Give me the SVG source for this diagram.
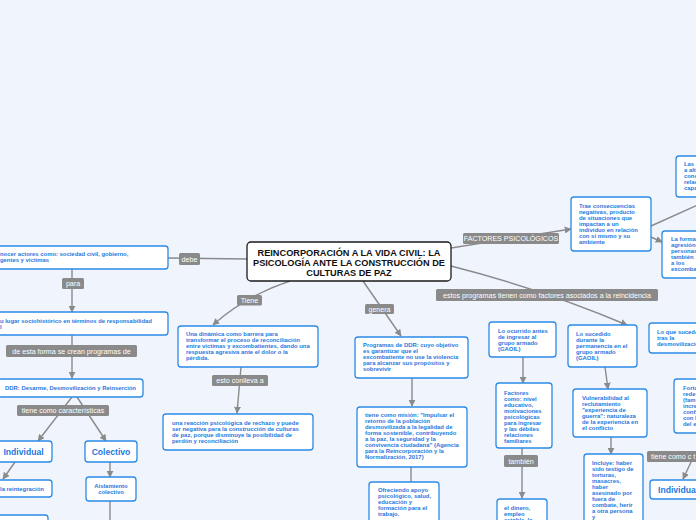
<svg xmlns="http://www.w3.org/2000/svg" width="696" height="520" viewBox="0 0 696 520">
<defs>
<marker id="ah" viewBox="0 0 10 10" refX="9" refY="5" markerWidth="7" markerHeight="7" markerUnits="userSpaceOnUse" orient="auto">
<path d="M0,0 L10,5 L0,10 z" fill="#8a8a8a"/>
</marker>
<style>
.bg{fill:#f0f4fd}
.n{fill:#ffffff;stroke:#2b8ae6;stroke-width:1.3}
.c{fill:#ffffff;stroke:#1a1a1a;stroke-width:1.3}
.t{font-family:"Liberation Sans",Arial,sans-serif;font-weight:bold;font-size:5.9px;fill:#1e78e0}
.tb{font-family:"Liberation Sans",Arial,sans-serif;font-weight:bold;font-size:8.6px;fill:#1e78e0;text-anchor:middle}
.ct{font-family:"Liberation Sans",Arial,sans-serif;font-weight:bold;font-size:9.2px;fill:#111111;text-anchor:middle}
.l{fill:none;stroke:#8a8a8a;stroke-width:1.4}
.la{fill:none;stroke:#8a8a8a;stroke-width:1.4;marker-end:url(#ah)}
.lb{fill:#8a8a8a}
.lt{font-family:"Liberation Sans",Arial,sans-serif;font-size:7.1px;fill:#ffffff;text-anchor:middle}
</style>
</defs>
<rect class="bg" x="0" y="0" width="696" height="520"/>

<g id="connectors">
<line class="l" x1="247" y1="259" x2="168" y2="258"/>
<line class="la" x1="72" y1="269" x2="72" y2="312"/>
<line class="la" x1="72" y1="335" x2="72" y2="378"/>
<line class="la" x1="72" y1="397" x2="38" y2="441"/>
<line class="la" x1="77" y1="397" x2="106" y2="441"/>
<line class="la" x1="15" y1="462" x2="3" y2="479"/>
<line class="la" x1="110" y1="462" x2="110" y2="477"/>
<line class="l" x1="110" y1="501" x2="110" y2="520"/>
<path class="la" d="M290,281 Q245,296 213,325"/>
<line class="la" x1="241" y1="367" x2="237" y2="413"/>
<line class="la" x1="363" y1="281" x2="401" y2="336"/>
<line class="la" x1="412" y1="378" x2="412" y2="406"/>
<line class="l" x1="411" y1="467" x2="411" y2="482"/>
<line class="la" x1="451" y1="248" x2="571" y2="229"/>
<line class="l" x1="651" y1="226" x2="700" y2="204"/>
<line class="la" x1="651" y1="237" x2="662" y2="242"/>
<path class="la" d="M451,266 Q545,290 627,325"/>
<line class="la" x1="523" y1="357" x2="523" y2="383"/>
<line class="la" x1="522" y1="448" x2="522" y2="498"/>
<line class="la" x1="605" y1="367" x2="608" y2="389"/>
<line class="la" x1="611" y1="437" x2="611" y2="454"/>
<line class="la" x1="693" y1="458" x2="683" y2="479"/>
</g>

<g id="labels">
<rect class="lb" x="179" y="253" width="21" height="12" rx="1.5"/><text class="lt" x="189.5" y="261.5">debe</text>
<rect class="lb" x="62" y="278" width="22" height="11" rx="1.5"/><text class="lt" x="73" y="286">para</text>
<rect class="lb" x="6" y="345" width="131" height="12" rx="1.5"/><text class="lt" x="71.5" y="353.5">de esta forma se crean programas de</text>
<rect class="lb" x="17" y="405" width="92" height="11" rx="1.5"/><text class="lt" x="63" y="413">tiene como características</text>
<rect class="lb" x="237" y="295" width="25" height="10.5" rx="1.5"/><text class="lt" x="249.5" y="302.5">Tiene</text>
<rect class="lb" x="212" y="375" width="56" height="11" rx="1.5"/><text class="lt" x="240" y="383">esto conlleva a</text>
<rect class="lb" x="365" y="304" width="29" height="10" rx="1.5"/><text class="lt" x="379.5" y="311.5">genera</text>
<rect class="lb" x="463" y="233" width="96" height="11" rx="1.5"/><text class="lt" x="511" y="241">FACTORES PSICOLÓGICOS</text>
<rect class="lb" x="436" y="289" width="222" height="12" rx="1.5"/><text class="lt" x="547" y="297.5">estos programas tienen como factores asociados a la reincidencia</text>
<rect class="lb" x="504" y="455" width="34" height="12" rx="1.5"/><text class="lt" x="521" y="463.5">también</text>
<rect class="lb" x="647" y="451" width="55" height="11" rx="1.5"/><text class="lt" x="651" y="459" style="text-anchor:start">tiene como c  t</text>
</g>

<g id="central">
<rect class="c" x="247" y="242" width="204" height="39" rx="4"/>
<text class="ct" x="349" y="256">REINCORPORACIÓN A LA VIDA CIVIL: LA</text>
<text class="ct" x="349" y="266">PSICOLOGÍA ANTE LA CONSTRUCCIÓN DE</text>
<text class="ct" x="349" y="276">CULTURAS DE PAZ</text>
</g>

<g id="n-reconocer">
<rect class="n" x="-6" y="246" width="174" height="23" rx="3"/>
<text class="t" x="0" y="256">nocer actores como: sociedad civil, gobierno,</text>
<text class="t" x="0" y="262">gentes y víctimas</text>
</g>

<g id="n-lugar">
<rect class="n" x="-6" y="312" width="174" height="23" rx="3"/>
<text class="t" x="0" y="323">u lugar sociohistórico en términos de responsabilidad</text>
<text class="t" x="0" y="329">l</text>
</g>

<g id="n-ddr">
<rect class="n" x="-2" y="379" width="145" height="18" rx="3"/>
<text class="t" x="70.5" y="390" style="text-anchor:middle">DDR: Desarme, Desmovilización y Reinserción</text>
</g>

<g id="n-individual">
<rect class="n" x="-5" y="441" width="57" height="21" rx="3"/>
<text class="tb" x="23.5" y="454.5">Individual</text>
</g>

<g id="n-colectivo">
<rect class="n" x="85" y="441" width="52" height="21" rx="3"/>
<text class="tb" x="111" y="454.5">Colectivo</text>
</g>

<g id="n-reintegracion">
<rect class="n" x="-6" y="480" width="58" height="17" rx="3"/>
<text class="t" x="0" y="491">la reintegración</text>
</g>

<g id="n-bottomleft">
<rect class="n" x="-6" y="515" width="54" height="12" rx="3"/>
</g>

<g id="n-aislamiento">
<rect class="n" x="86" y="477" width="50" height="24" rx="3"/>
<text class="t" x="111" y="487.5" style="text-anchor:middle">Aislamiento</text>
<text class="t" x="111" y="493.5" style="text-anchor:middle">colectivo</text>
</g>

<g id="n-dinamica">
<rect class="n" x="178" y="326" width="140" height="41" rx="3"/>
<text class="t" x="186" y="336">Una dinámica como barrera para</text>
<text class="t" x="186" y="342">transformar el proceso de reconciliación</text>
<text class="t" x="186" y="348">entre víctimas y excombatientes, dando una</text>
<text class="t" x="186" y="354">respuesta agresiva ante el dolor o la</text>
<text class="t" x="186" y="360">pérdida.</text>
</g>

<g id="n-reaccion">
<rect class="n" x="163" y="414" width="150" height="36" rx="3"/>
<text class="t" x="172" y="425">una reacción psicológica de rechazo y puede</text>
<text class="t" x="172" y="431">ser negativa para la construcción de culturas</text>
<text class="t" x="172" y="437">de paz, porque disminuye la posibilidad de</text>
<text class="t" x="172" y="443">perdón y reconciliación</text>
</g>

<g id="n-programas">
<rect class="n" x="355" y="337" width="113" height="41" rx="3"/>
<text class="t" x="363" y="347">Programas de DDR: cuyo objetivo</text>
<text class="t" x="363" y="353">es garantizar que el</text>
<text class="t" x="363" y="359">excombatiente no use la violencia</text>
<text class="t" x="363" y="365">para alcanzar sus propósitos y</text>
<text class="t" x="363" y="371">sobrevivir</text>
</g>

<g id="n-mision">
<rect class="n" x="357" y="407" width="110" height="60" rx="3"/>
<text class="t" x="365" y="417">tiene como misión: "Impulsar el</text>
<text class="t" x="365" y="423">retorno de la población</text>
<text class="t" x="365" y="429">desmovilizada a la legalidad de</text>
<text class="t" x="365" y="435">forma sostenible, contribuyendo</text>
<text class="t" x="365" y="441">a la paz, la seguridad y la</text>
<text class="t" x="365" y="447">convivencia ciudadana" (Agencia</text>
<text class="t" x="365" y="453">para la Reincorporación y la</text>
<text class="t" x="365" y="459">Normalización, 2017)</text>
</g>

<g id="n-ofreciendo">
<rect class="n" x="369" y="482" width="70" height="45" rx="3"/>
<text class="t" x="378" y="492">Ofreciendo apoyo</text>
<text class="t" x="378" y="498">psicológico, salud,</text>
<text class="t" x="378" y="504">educación y</text>
<text class="t" x="378" y="510">formación para el</text>
<text class="t" x="378" y="516">trabajo.</text>
</g>

<g id="n-trae">
<rect class="n" x="571" y="197" width="80" height="54" rx="3"/>
<text class="t" x="579" y="208">Trae consecuencias</text>
<text class="t" x="579" y="214">negativas, producto</text>
<text class="t" x="579" y="220">de situaciones que</text>
<text class="t" x="579" y="226">impactan a un</text>
<text class="t" x="579" y="232">individuo en relación</text>
<text class="t" x="579" y="238">con sí mismo y su</text>
<text class="t" x="579" y="244">ambiente</text>
</g>

<g id="n-las">
<rect class="n" x="676" y="156" width="40" height="41" rx="3"/>
<text class="t" x="684" y="166">Las c</text>
<text class="t" x="684" y="172">a alt</text>
<text class="t" x="684" y="178">conc</text>
<text class="t" x="684" y="184">relac</text>
<text class="t" x="684" y="190">capa</text>
</g>

<g id="n-laforma">
<rect class="n" x="662" y="231" width="50" height="47" rx="3"/>
<text class="t" x="671" y="241">La forma</text>
<text class="t" x="671" y="247">agresión</text>
<text class="t" x="671" y="253">personas</text>
<text class="t" x="671" y="259">también</text>
<text class="t" x="671" y="265">a los</text>
<text class="t" x="671" y="271">excombat</text>
</g>

<g id="n-ocurrido">
<rect class="n" x="489" y="322" width="67" height="35" rx="3"/>
<text class="t" x="498" y="333">Lo ocurrido antes</text>
<text class="t" x="498" y="339">de ingresar al</text>
<text class="t" x="498" y="345">grupo armado</text>
<text class="t" x="498" y="351">(GAOIL)</text>
</g>

<g id="n-factores">
<rect class="n" x="496" y="383" width="56" height="65" rx="3"/>
<text class="t" x="504" y="395">Factores</text>
<text class="t" x="504" y="401">como: nivel</text>
<text class="t" x="504" y="407">educativo,</text>
<text class="t" x="504" y="413">motivaciones</text>
<text class="t" x="504" y="419">psicológicas</text>
<text class="t" x="504" y="425">para ingresar</text>
<text class="t" x="504" y="431">y las débiles</text>
<text class="t" x="504" y="437">relaciones</text>
<text class="t" x="504" y="443">familiares</text>
</g>

<g id="n-dinero">
<rect class="n" x="497" y="499" width="50" height="30" rx="3"/>
<text class="t" x="504" y="510">el dinero,</text>
<text class="t" x="504" y="516">empleo</text>
<text class="t" x="504" y="522">estable, la</text>
</g>

<g id="n-sucedido">
<rect class="n" x="568" y="325" width="69" height="42" rx="3"/>
<text class="t" x="576" y="336">Lo sucedido</text>
<text class="t" x="576" y="342">durante la</text>
<text class="t" x="576" y="348">permanencia en el</text>
<text class="t" x="576" y="354">grupo armado</text>
<text class="t" x="576" y="360">(GAOIL)</text>
</g>

<g id="n-vulnerabilidad">
<rect class="n" x="573" y="389" width="74" height="48" rx="3"/>
<text class="t" x="582" y="400">Vulnerabilidad al</text>
<text class="t" x="582" y="406">reclutamiento</text>
<text class="t" x="582" y="412">"experiencia de</text>
<text class="t" x="582" y="418">guerra": naturaleza</text>
<text class="t" x="582" y="424">de la experiencia en</text>
<text class="t" x="582" y="430">el conflicto</text>
</g>

<g id="n-incluye">
<rect class="n" x="584" y="454" width="59" height="75" rx="3"/>
<text class="t" x="592" y="465">Incluye: haber</text>
<text class="t" x="592" y="471">sido testigo de</text>
<text class="t" x="592" y="477">torturas,</text>
<text class="t" x="592" y="483">masacres,</text>
<text class="t" x="592" y="489">haber</text>
<text class="t" x="592" y="495">asesinado por</text>
<text class="t" x="592" y="501">fuera de</text>
<text class="t" x="592" y="507">combate, herir</text>
<text class="t" x="592" y="513">a otra persona</text>
<text class="t" x="592" y="519">y</text>
</g>

<g id="n-loquesucede">
<rect class="n" x="649" y="323" width="60" height="30" rx="3"/>
<text class="t" x="657" y="334">Lo que sucede</text>
<text class="t" x="657" y="340">tras la</text>
<text class="t" x="657" y="346">desmovilización</text>
</g>

<g id="n-fortalecer">
<rect class="n" x="674" y="379" width="40" height="54" rx="3"/>
<text class="t" x="683" y="390">Forta</text>
<text class="t" x="683" y="396">rede</text>
<text class="t" x="683" y="402">(fam</text>
<text class="t" x="683" y="408">incre</text>
<text class="t" x="683" y="414">confi</text>
<text class="t" x="683" y="420">con l</text>
<text class="t" x="683" y="426">del e</text>
</g>

<g id="n-individual2">
<rect class="n" x="650" y="480" width="60" height="19" rx="3"/>
<text class="tb" x="658" y="493" style="text-anchor:start">Individual</text>
</g>
</svg>
